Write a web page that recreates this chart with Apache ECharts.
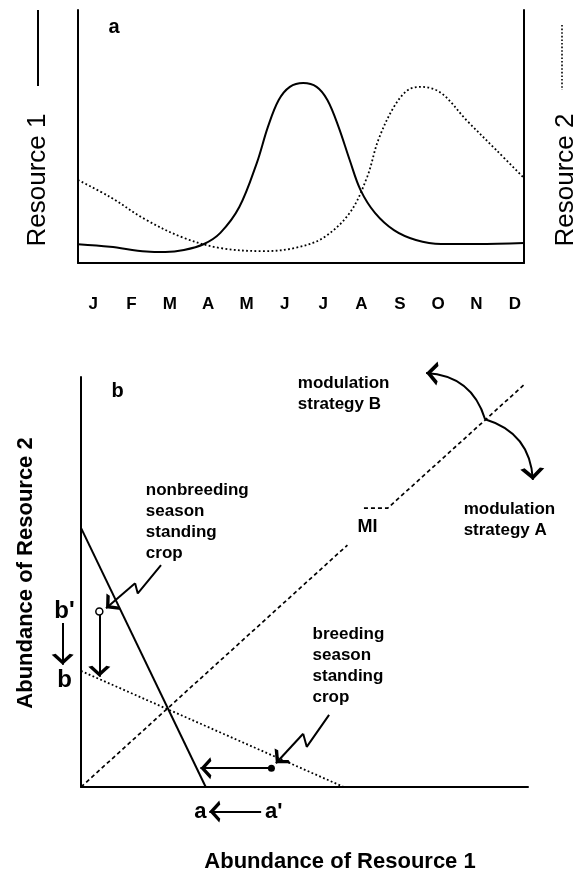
<!DOCTYPE html>
<html>
<head>
<meta charset="utf-8">
<script src="https://cdn.jsdelivr.net/npm/echarts@6/dist/echarts.min.js"></script>
<style>
  html, body { margin: 0; background: #fff; }
  #chart { width: 577px; height: 877px; }
</style>
</head>
<body>
<div id="chart"></div>
<script>
  // panel a: seasonal course of the two resources (x in months from 1 Jan, y relative)
  const monthNames = ['Jan', 'Feb', 'Mar', 'Apr', 'May', 'Jun', 'Jul', 'Aug', 'Sep', 'Oct', 'Nov', 'Dec']
  const res1X = [0, 0.86, 1.84, 2.35, 2.85, 3.39, 3.83, 4.34, 4.81, 5.11, 5.40, 5.70, 6.06, 6.42, 6.71, 7.01, 7.31, 7.60, 7.99, 8.5, 9.09, 9.77, 10.75, 12]
  const res1Y = [7.4, 6.4, 4.5, 4.3, 5.1, 7.5, 11.9, 22.1, 39.5, 53.8, 64.4, 69.6, 71.1, 69.6, 64.4, 53.8, 40.7, 28.9, 19.8, 13.0, 9.1, 7.5, 7.5, 7.9]
  const res2X = [0, 0.86, 1.84, 2.85, 3.83, 5.02, 5.82, 6.59, 7.31, 7.78, 8.08, 8.5, 8.88, 9.24, 9.77, 10.45, 11.25, 12]
  const res2Y = [32.8, 26.1, 17.0, 9.9, 5.9, 4.7, 5.9, 9.9, 19.8, 34.0, 48.6, 61.7, 68.4, 69.6, 67.2, 56.5, 44.7, 33.6]

  // panel b: abundance plane (both axes 0..100)
  const nonbreedX = [0, 27.9]
  const nonbreedY = [63.2, 0]
  const breedX = [0, 58.8]
  const breedY = [28.3, 0]
  const miLowX = [0, 59.6]
  const miLowY = [0, 59.0]
  const miHighX = [63.3, 68.6, 99]
  const miHighY = [68.0, 68.0, 98]
  const openPoint = [4.1, 42.8]      // b'
  const filledPoint = [42.6, 4.6]    // a'
  const straightArrows = [
    [[4.1, 42.8], [4.1, 26.9]],
    [[42.6, 4.6], [26.7, 4.6]],
    [[-4.1, 40.0], [-4.1, 29.8]],
    [[40.3, -6], [28.7, -6]]
  ]
  const bolts = [
    [[17.9, 54.1], [12.7, 47.2], [12.1, 49.7], [5.6, 43.6]],
    [[55.5, 17.6], [50.5, 9.8], [49.7, 13.0], [43.6, 5.8]]
  ]
  const strategyStart = [90.4, 89.7]
  const strategyB = [77.2, 101.0]
  const strategyA = [101.1, 74.9]

  const zip = (xs, ys) => xs.map((x, i) => [x, ys[i]])
  const FONT = '"Liberation Sans", Arial, sans-serif'
  // open arrow head, tip in the middle of the box so the line ends at the tip
  const HEAD = 'path://M0,0 L5,10 L3.2,11 L0,4.5 L-3.2,11 L-5,10 Z M0,-11 L0.05,-11 L0,-11 Z'

  // text notes in panel b
  const notes = [
    {value: [8.2, 96.4], name: 'b', size: 20, align: 'center'},
    {value: [64.1, 63.5], name: 'MI', size: 18, align: 'center'},
    {value: [48.5, 96.0], name: 'modulation\nstrategy B', size: 17, align: 'left'},
    {value: [85.6, 65.2], name: 'modulation\nstrategy A', size: 17, align: 'left'},
    {value: [14.5, 64.6], name: 'nonbreeding\nseason\nstanding\ncrop', size: 17, align: 'left'},
    {value: [51.8, 29.5], name: 'breeding\nseason\nstanding\ncrop', size: 17, align: 'left'},
    {value: [-3.7, 42.8], name: "b'", size: 24, align: 'center'},
    {value: [-3.7, 26.0], name: 'b', size: 24, align: 'center'},
    {value: [26.7, -6], name: 'a', size: 22, align: 'center'},
    {value: [43.1, -6], name: "a'", size: 22, align: 'center'}
  ]

  const chart = echarts.init(document.getElementById('chart'))

  const hiddenAxis = (extra) => Object.assign({
    type: 'value',
    axisLine: {show: true, onZero: false, lineStyle: {color: '#000', width: 2}},
    axisTick: {show: false},
    axisLabel: {show: false},
    splitLine: {show: false}
  }, extra)

  const solid = {color: '#000', width: 2}
  const dotted = {color: '#000', width: 1.8, type: [1.8, 2.4]}

  chart.setOption({
    animation: false,
    textStyle: {fontFamily: FONT, color: '#000'},
    grid: [
      {left: 78, top: 10, width: 446, height: 253},
      {left: 81, top: 377, width: 447, height: 410},
      {left: 74, top: 10, width: 460, height: 253}   // month labels only
    ],
    xAxis: [
      hiddenAxis({gridIndex: 0, min: 0, max: 12}),
      hiddenAxis({gridIndex: 1, min: 0, max: 100}),
      {
        type: 'category', gridIndex: 2, position: 'bottom', data: monthNames,
        axisLine: {show: false}, axisTick: {show: false}, splitLine: {show: false},
        axisLabel: {interval: 0, margin: 33, fontSize: 17, fontWeight: 'bold', color: '#000',
          formatter: v => v[0]}
      }
    ],
    yAxis: [
      hiddenAxis({gridIndex: 0, min: 0, max: 100}),
      hiddenAxis({gridIndex: 0, min: 0, max: 100, position: 'right'}),
      hiddenAxis({gridIndex: 1, min: 0, max: 100}),
      {type: 'value', gridIndex: 2, show: false}
    ],
    graphic: [
      {type: 'text', x: 38, y: 180, rotation: Math.PI / 2,
        style: {text: 'Resource 1', font: '26px ' + FONT, fill: '#000', textAlign: 'center', textVerticalAlign: 'middle'}},
      {type: 'line', shape: {x1: 38, y1: 10, x2: 38, y2: 86}, style: {stroke: '#000', lineWidth: 2}},
      {type: 'text', x: 566, y: 180, rotation: Math.PI / 2,
        style: {text: 'Resource 2', font: '26px ' + FONT, fill: '#000', textAlign: 'center', textVerticalAlign: 'middle'}},
      {type: 'line', shape: {x1: 562, y1: 25, x2: 562, y2: 90}, style: {stroke: '#000', lineWidth: 1.6, lineDash: [1.6, 2]}},
      {type: 'text', x: 114, y: 27,
        style: {text: 'a', font: 'bold 20px ' + FONT, fill: '#000', textAlign: 'center', textVerticalAlign: 'middle'}},
      {type: 'text', x: 26, y: 573, rotation: Math.PI / 2,
        style: {text: 'Abundance of Resource 2', font: 'bold 22px ' + FONT, fill: '#000', textAlign: 'center', textVerticalAlign: 'middle'}},
      {type: 'text', x: 340, y: 862,
        style: {text: 'Abundance of Resource 1', font: 'bold 22px ' + FONT, fill: '#000', textAlign: 'center', textVerticalAlign: 'middle'}}
    ],
    series: [
      // panel a
      {type: 'line', xAxisIndex: 0, yAxisIndex: 0, data: zip(res1X, res1Y), smooth: 0.35,
        symbol: 'none', silent: true, lineStyle: solid},
      {type: 'line', xAxisIndex: 0, yAxisIndex: 0, data: zip(res2X, res2Y), smooth: 0.35,
        symbol: 'none', silent: true, lineStyle: dotted},
      // panel b
      {type: 'line', xAxisIndex: 1, yAxisIndex: 2, data: zip(nonbreedX, nonbreedY),
        symbol: 'none', silent: true, lineStyle: solid},
      {type: 'line', xAxisIndex: 1, yAxisIndex: 2, data: zip(breedX, breedY),
        symbol: 'none', silent: true, lineStyle: dotted},
      {type: 'line', xAxisIndex: 1, yAxisIndex: 2, data: zip(miLowX, miLowY),
        symbol: 'none', silent: true, lineStyle: {color: '#000', width: 1.7, type: [4, 3]}},
      {type: 'line', xAxisIndex: 1, yAxisIndex: 2, data: zip(miHighX, miHighY),
        symbol: 'none', silent: true, lineStyle: {color: '#000', width: 1.7, type: [4, 3]}},
      // zigzag pointers (all but the last leg)
      ...bolts.map(b => ({
        type: 'line', xAxisIndex: 1, yAxisIndex: 2, data: b.slice(0, 3), clip: false,
        symbol: 'none', silent: true, lineStyle: solid
      })),
      // straight arrows + last leg of zigzags
      {type: 'lines', coordinateSystem: 'cartesian2d', xAxisIndex: 1, yAxisIndex: 2, clip: false, silent: true,
        symbol: ['none', HEAD], symbolSize: [9, 22],
        lineStyle: {color: '#000', width: 2, opacity: 1},
        data: straightArrows.concat(bolts.map(b => b.slice(2))).map(c => ({coords: c}))},
      // modulation strategy arrows
      {type: 'lines', coordinateSystem: 'cartesian2d', xAxisIndex: 1, yAxisIndex: 2, clip: false, silent: true,
        symbol: ['none', HEAD], symbolSize: [10, 24],
        lineStyle: {color: '#000', width: 2, opacity: 1, curveness: -0.35},
        data: [{coords: [strategyStart, strategyB]}]},
      {type: 'lines', coordinateSystem: 'cartesian2d', xAxisIndex: 1, yAxisIndex: 2, clip: false, silent: true,
        symbol: ['none', HEAD], symbolSize: [10, 24],
        lineStyle: {color: '#000', width: 2, opacity: 1, curveness: 0.35},
        data: [{coords: [strategyStart, strategyA]}]},
      // points
      {type: 'scatter', xAxisIndex: 1, yAxisIndex: 2, data: [openPoint], symbolSize: 7, silent: true,
        itemStyle: {color: '#fff', borderColor: '#000', borderWidth: 1.5, opacity: 1}},
      {type: 'scatter', xAxisIndex: 1, yAxisIndex: 2, data: [filledPoint], symbolSize: 7, silent: true,
        itemStyle: {color: '#000', opacity: 1}},
      // labels
      {type: 'scatter', xAxisIndex: 1, yAxisIndex: 2, clip: false, silent: true, symbolSize: 0,
        itemStyle: {opacity: 1},
        data: notes.map(n => ({
          value: n.value, name: n.name,
          label: {
            show: true, position: [0, 0], formatter: '{b}', color: '#000',
            fontSize: n.size, fontWeight: 'bold', align: n.align, verticalAlign: 'middle',
            lineHeight: Math.round(n.size * 1.22), fontFamily: FONT
          }
        }))}
    ]
  })
</script>
</body>
</html>
